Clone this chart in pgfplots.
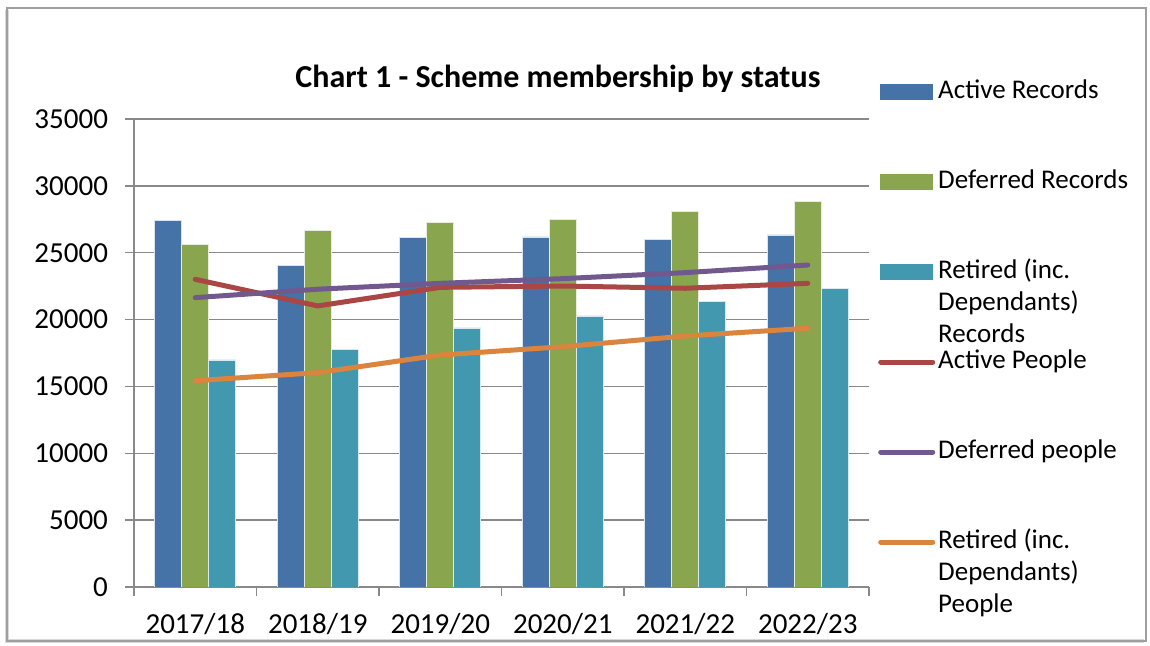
\documentclass[border=0pt]{standalone}
\usepackage{fontspec}
\setmainfont{Carlito}
\usepackage{pgfplots}
\usepackage{pgfplotstable}
\pgfplotsset{compat=1.18}

\definecolor{cBlue}{HTML}{4572A7}
\definecolor{cGreen}{HTML}{89A54E}
\definecolor{cTeal}{HTML}{4198AF}
\definecolor{cRed}{HTML}{AA4643}
\definecolor{cPurple}{HTML}{71588F}
\definecolor{cOrange}{HTML}{DB843D}
\definecolor{gridgray}{HTML}{898989}

% year index, records (bars) and people (lines)
\pgfplotstableread{
x  actrec  defrec  retrec  actppl  defppl  retppl
1  27400   25650   16980   23010   21640   15430
2  24060   26650   17780   21020   22270   16030
3  26150   27280   19370   22410   22710   17350
4  26180   27500   20270   22510   23060   17970
5  25980   28100   21370   22340   23510   18770
6  26330   28820   22340   22710   24080   19350
}\membership

\begin{document}
\begin{tikzpicture}
\useasboundingbox (0pt,0pt) rectangle (575pt,323pt);
\fill[gray!30] (2.5pt,1.5pt) rectangle (572pt,318pt);
\fill[white] (4.5pt,3.5pt) rectangle (573pt,319pt);
\draw[gray!75, line width=1pt] (3.5pt,2.5pt) rectangle (573pt,319pt);
\node[font=\fontsize{16}{18}\selectfont\bfseries] at (279pt,283.5pt) {Chart 1 - Scheme membership by status};
\begin{axis}[
    at={(67pt,29.5pt)}, anchor=south west,
    scale only axis,
    width=367.5pt, height=234pt,
    xmin=0.5, xmax=6.5,
    ymin=0, ymax=35000,
    ytick={0,5000,...,35000},
    xtick={0.5,1.5,...,6.5},
    x tick label as interval,
    xticklabels={2017/18,2018/19,2019/20,2020/21,2021/22,2022/23},
    axis lines*=left,
    axis line style={gridgray, line width=0.75pt},
    ymajorgrids,
    major grid style={gridgray, line width=0.75pt},
    tick align=outside,
    major tick length=4.5pt,
    tick style={gridgray, line width=0.75pt},
    /pgf/number format/assume math mode=true,
    scaled y ticks=false,
    yticklabel style={/pgf/number format/1000 sep={}, xshift=-5pt},
    xticklabel style={yshift=-5pt},
    ticklabel style={font=\fontsize{14.5}{17}\selectfont},
    legend style={
        at={(1.012,1.097)}, anchor=north west,
        draw=none, fill=none, inner xsep=0pt, inner ysep=0pt,
        row sep=27pt,
        font=\fontsize{13.5}{16}\selectfont,
        nodes={text height=10pt, text depth=4pt, inner xsep=1.5pt},
    },
    legend cell align=left,
]
\addplot[ybar, bar width=13.5pt, bar shift=-13.5pt, fill=cBlue, draw=white!80!cBlue, line width=0.4pt,
    legend image code/.code={\fill[cBlue] (0pt,-3.75pt) rectangle (26pt,3.75pt);}]
    table[x=x, y=actrec] {\membership};
\addplot[ybar, bar width=13.5pt, bar shift=0pt, fill=cGreen, draw=white!80!cGreen, line width=0.4pt,
    legend image code/.code={\fill[cGreen] (0pt,-3.75pt) rectangle (26pt,3.75pt);}]
    table[x=x, y=defrec] {\membership};
\addplot[ybar, bar width=13.5pt, bar shift=13.5pt, fill=cTeal, draw=white!80!cTeal, line width=0.4pt,
    legend image code/.code={\fill[cTeal] (0pt,-3.75pt) rectangle (26pt,3.75pt);}]
    table[x=x, y=retrec] {\membership};
\addplot[sharp plot, no marks, cRed, line width=2.5pt, line cap=round, line join=round,
    legend image code/.code={\draw[cRed, line width=2.5pt, line cap=round] (0pt,0pt) -- (26pt,0pt);}]
    table[x=x, y=actppl] {\membership};
\addplot[sharp plot, no marks, cPurple, line width=2.5pt, line cap=round, line join=round,
    legend image code/.code={\draw[cPurple, line width=2.5pt, line cap=round] (0pt,0pt) -- (26pt,0pt);}]
    table[x=x, y=defppl] {\membership};
\addplot[sharp plot, no marks, cOrange, line width=2.5pt, line cap=round, line join=round,
    legend image code/.code={\draw[cOrange, line width=2.5pt, line cap=round] (0pt,0pt) -- (26pt,0pt);}]
    table[x=x, y=retppl] {\membership};
\legend{Active Records, Deferred Records,
    {\begin{tabular}[t]{@{}l@{}}Retired (inc.\\Dependants)\\Records\end{tabular}},
    Active People, Deferred people,
    {\begin{tabular}[t]{@{}l@{}}Retired (inc.\\Dependants)\\People\end{tabular}}}
\end{axis}
\end{tikzpicture}
\end{document}
